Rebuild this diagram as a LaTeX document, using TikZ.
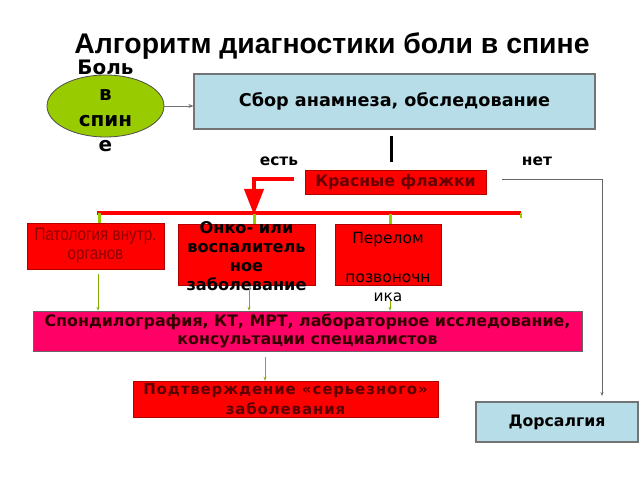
\documentclass[tikz,border=0pt]{standalone}
\usepackage{fontspec}
\setmainfont{Liberation Sans}
\newfontfamily\verd{DejaVu Sans}
\newfontfamily\narrowfont{Liberation Sans}[FakeStretch=0.85]
\usetikzlibrary{arrows.meta, shapes.geometric, positioning, calc}
\definecolor{leaf}{HTML}{99CC00}
\definecolor{paleblue}{HTML}{B7DDE8}
\definecolor{flagred}{HTML}{FF0000}
\definecolor{hotpink}{HTML}{FF0066}
\definecolor{maroon}{HTML}{5A0000}
\definecolor{darkred}{HTML}{900000}
\newcommand{\feed}[4]
{
	\draw[feedline] ($ (#2.south -| #1) + (0,#4) $) -- (#3.north -| #1)
}

\begin{document}
\begin{tikzpicture}[x=1bp, y=-1bp,
	every node/.append style={inner sep=0pt, align=center},
	bluebox/.style={draw=black!55, fill=paleblue, line width=1.2bp},
	redbox/.style={draw=red!70!black, fill=flagred, line width=0.6bp},
	feedline/.style={draw=leaf!85!black, line width=0.7bp, -{Stealth[length=4bp, width=3bp]}},
	stub/.style={draw=leaf, line width=3bp},
	bold/.style={font=\verd\bfseries\fontsize{#1}{19}\selectfont}]

	\useasboundingbox[fill=white] (0,0) rectangle (640,480);

	\node (title) at (332,46) {\fontsize{28.5}{32}\selectfont\bfseries Алгоритм диагностики боли в спине};

	\node[ellipse, draw=black!70, fill=leaf, line width=0.8bp, minimum width=117bp, minimum height=62bp,
		label={[font=\verd\bfseries\fontsize{20}{26}\selectfont]center:{Боль\\в\\спин\\е}}] (pain) at (105.5,106) {};
	\node[bluebox, minimum width=401bp, minimum height=55bp, bold=17.7] (exam) at (394.5,101.5) {Сбор анамнеза, обследование};

	\node[bold=15.5] (yes) at (279,161) {есть};
	\node[bold=15.5] (no) at (537,161) {нет};
	\node[redbox, minimum width=181bp, minimum height=24bp, bold=15.8, text=red!40!black] (flags) at (395.5,182) {Красные флажки};

	\node[redbox, minimum width=137bp, minimum height=46bp, text=darkred,
		font=\narrowfont\fontsize{18}{19}\selectfont] (organs) at (95.5,246) {Патология внутр.\\органов};
	\node[redbox, minimum width=137bp, minimum height=61bp,
		label={[bold=16.2, yshift=-1.5bp]center:{Онко- или\\воспалитель\\ное\\заболевание}}] (onco) at (246.5,254.5) {};
	\node[redbox, minimum width=106bp, minimum height=61bp,
		label={[font=\verd\fontsize{15.5}{19.5}\selectfont, yshift=-12bp]center:{Перелом\\[19.5bp]позвоночн\\ика}}] (fracture) at (388,255) {};

	\node[draw=black!60, fill=hotpink, line width=0.6bp, minimum width=549bp, minimum height=40bp,
		font=\verd\bfseries\fontsize{15.9}{18}\selectfont, text=black!80!red] (scan) at (307.5,331) {Спондилография, КТ, МРТ, лабораторное исследование,\\консультации специалистов};
	\node[redbox, minimum width=305bp, minimum height=36bp, text=maroon,
		font=\verd\bfseries\fontsize{15}{20}\selectfont\addfontfeature{LetterSpace=6}] (confirm) at (285.5,399) {Подтверждение «серьезного»\\заболевания};
	\node[bluebox, minimum width=162bp, minimum height=40bp, bold=15.8] (dorsal) at (557,422) {Дорсалгия};

	% connectors
	\draw[-{Stealth[length=5bp, width=4bp]}, draw=black!55, line width=0.8bp] (pain.east) -- (pain.east -| exam.west);
	\coordinate (bartop) at (391,136);
	\coordinate (barbot) at (391,162);
	\draw[line width=3bp] (bartop) -- (barbot);

	\coordinate (redstart) at (294,179);
	\coordinate (redtip) at (254,215);
	\draw[line width=4bp, flagred, -{Triangle[length=26bp, width=19bp]}] (redstart) -| (redtip);
	\coordinate (busL) at (97,213);
	\coordinate (busR) at (521,213);
	\draw[line width=4bp, flagred] (busL) -- (busR);
	\draw[stub, line width=1.5bp] (busR) -- ++(0,5);
	\foreach \sx/\bx in {99/organs, 254/onco, 390/fracture}
		\draw[stub] (\bx.north -| \sx,0) -- ++(0,-10);

	\coordinate (nostart) at (502,179);
	\coordinate (noend) at (602,396);
	\draw[draw=black!60, line width=0.8bp, -{Stealth[length=4bp, width=3bp]}] (nostart) -| (noend);

	\feed{98,0}{organs}{scan}{5};
	\feed{249,0}{onco}{scan}{3};
	\feed{390,0}{fracture}{scan}{15};
	\feed{265,0}{scan}{confirm}{6};
\end{tikzpicture}
\end{document}
